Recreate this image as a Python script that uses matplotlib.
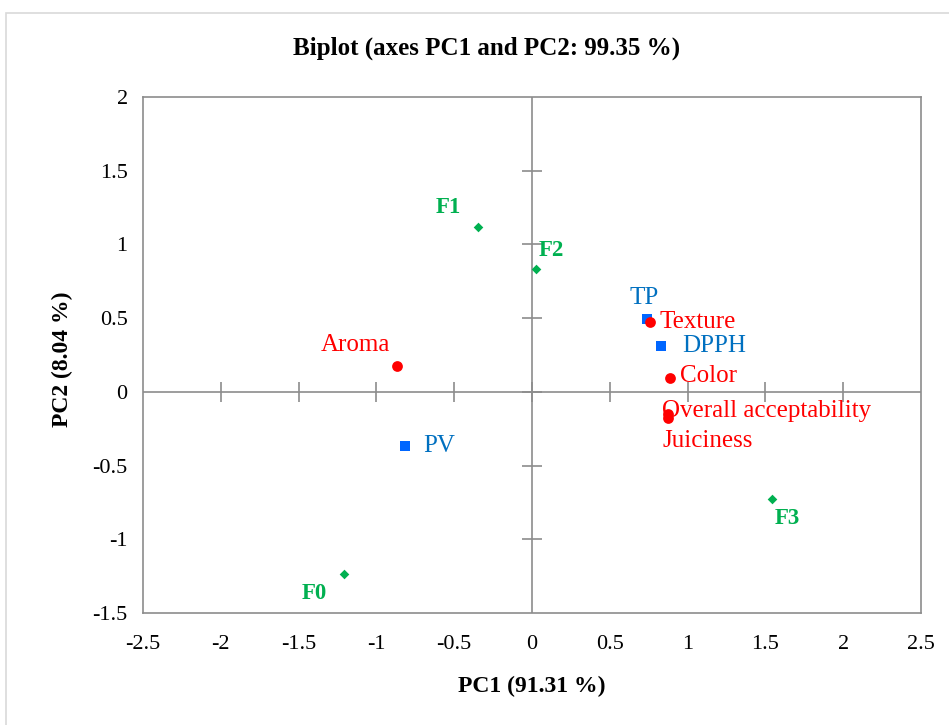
import matplotlib
matplotlib.use("Agg")
import matplotlib.pyplot as plt
from matplotlib.patches import Rectangle

plt.rcParams['font.family'] = ['Liberation Serif', 'DejaVu Serif']

# Observations (green diamonds)
obs_names = ["F0", "F1", "F2", "F3"]
obs_x = [-1.21, -0.347, 0.026, 1.54]
obs_y = [-1.235, 1.12, 0.834, -0.726]

# Variables - sensory (red circles)
sens_names = ["Aroma", "Texture", "Color", "Overall acceptability", "Juiciness"]
sens_x = [-0.868, 0.758, 0.887, 0.874, 0.874]
sens_y = [0.176, 0.475, 0.095, -0.149, -0.176]

# Variables - chemical (blue squares)
chem_names = ["TP", "DPPH", "PV"]
chem_x = [0.739, 0.829, -0.816]
chem_y = [0.495, 0.312, -0.366]

x_ticks = [-2.5, -2, -1.5, -1, -0.5, 0, 0.5, 1, 1.5, 2, 2.5]
y_ticks = [-1.5, -1, -0.5, 0, 0.5, 1, 1.5, 2]

GREEN = "#00B050"
RED = "#FF0000"
BLUE_M = "#0066FF"
BLUE_T = "#0070C0"
GRAY = "#8C8C8C"

fig = plt.figure(figsize=(9.49, 7.25), dpi=100)
fig.patches.append(Rectangle((6/949, -0.2), 1.2, 1 - 13/725 + 0.2, transform=fig.transFigure,
                             fill=False, edgecolor="#D9D9D9", linewidth=1.2))
ax = fig.add_axes([143/949, 1 - 613/725, (921 - 143)/949, (613 - 97)/725])
ax.set_xlim(-2.5, 2.5)
ax.set_ylim(-1.5, 2)
ax.set_xticks(x_ticks)
ax.set_xticklabels([f"{t:g}" for t in x_ticks])
ax.set_yticks(y_ticks)
ax.set_yticklabels([f"{t:g}" for t in y_ticks])
ax.tick_params(axis='both', length=0, labelsize=16)
ax.tick_params(axis='x', pad=16)
ax.tick_params(axis='y', pad=11)
for s in ax.spines.values():
    s.set_color(GRAY)
    s.set_linewidth(1.2)

# Center lines with crossing ticks
ax.axhline(0, color=GRAY, lw=1.2, zorder=1)
ax.axvline(0, color=GRAY, lw=1.2, zorder=1)
ax.plot(x_ticks[1:-1], [0]*len(x_ticks[1:-1]), ls='none', marker='|', ms=14, mew=1.2, color=GRAY, zorder=1)
ax.plot([0]*len(y_ticks[1:-1]), y_ticks[1:-1], ls='none', marker='_', ms=14, mew=1.2, color=GRAY, zorder=1)

ax.scatter(obs_x, obs_y, marker='D', s=24, color=GREEN, zorder=3, linewidths=0)
ax.scatter(chem_x, chem_y, marker='s', s=55, color=BLUE_M, zorder=3, linewidths=0)
ax.scatter(sens_x, sens_y, marker='o', s=60, color=RED, zorder=4, linewidths=0)

# Labels
obs_off = {"F0": (-12, -14, 'right', 'center'), "F1": (-12, 14, 'right', 'center'),
           "F2": (2, 13, 'left', 'center'), "F3": (2, -14, 'left', 'center')}
for n, x, y in zip(obs_names, obs_x, obs_y):
    dx, dy, ha, va = obs_off[n]
    ax.annotate(n, (x, y), xytext=(dx, dy), textcoords='offset points', ha=ha, va=va,
                color=GREEN, fontsize=16.5, fontweight='bold')

sens_off = {"Aroma": (-5, 15, 'right', 'center'), "Texture": (7, 0, 'left', 'center'),
            "Color": (7, 1, 'left', 'center'), "Overall acceptability": (-4, 2, 'left', 'center'),
            "Juiciness": (-4, -17, 'left', 'center')}
for n, x, y in zip(sens_names, sens_x, sens_y):
    dx, dy, ha, va = sens_off[n]
    ax.annotate(n, (x, y), xytext=(dx, dy), textcoords='offset points', ha=ha, va=va,
                color=RED, fontsize=18)

chem_off = {"TP": (-2, 15, 'center', 'center'), "DPPH": (15, 0, 'left', 'center'),
            "PV": (13, 0, 'left', 'center')}
for n, x, y in zip(chem_names, chem_x, chem_y):
    dx, dy, ha, va = chem_off[n]
    ax.annotate(n, (x, y), xytext=(dx, dy), textcoords='offset points', ha=ha, va=va,
                color=BLUE_T, fontsize=18)

fig.text(487/949, 1 - 48/725, "Biplot (axes PC1 and PC2: 99.35 %)",
         ha='center', va='center', fontsize=18, fontweight='bold')
fig.text(532/949, 1 - 686/725, "PC1 (91.31 %)", ha='center', va='center', fontsize=17, fontweight='bold')
fig.text(62/949, 1 - 359/725, "PC2 (8.04 %)", ha='center', va='center', fontsize=17,
         fontweight='bold', rotation=90)

fig.savefig("out.png", dpi=100)
